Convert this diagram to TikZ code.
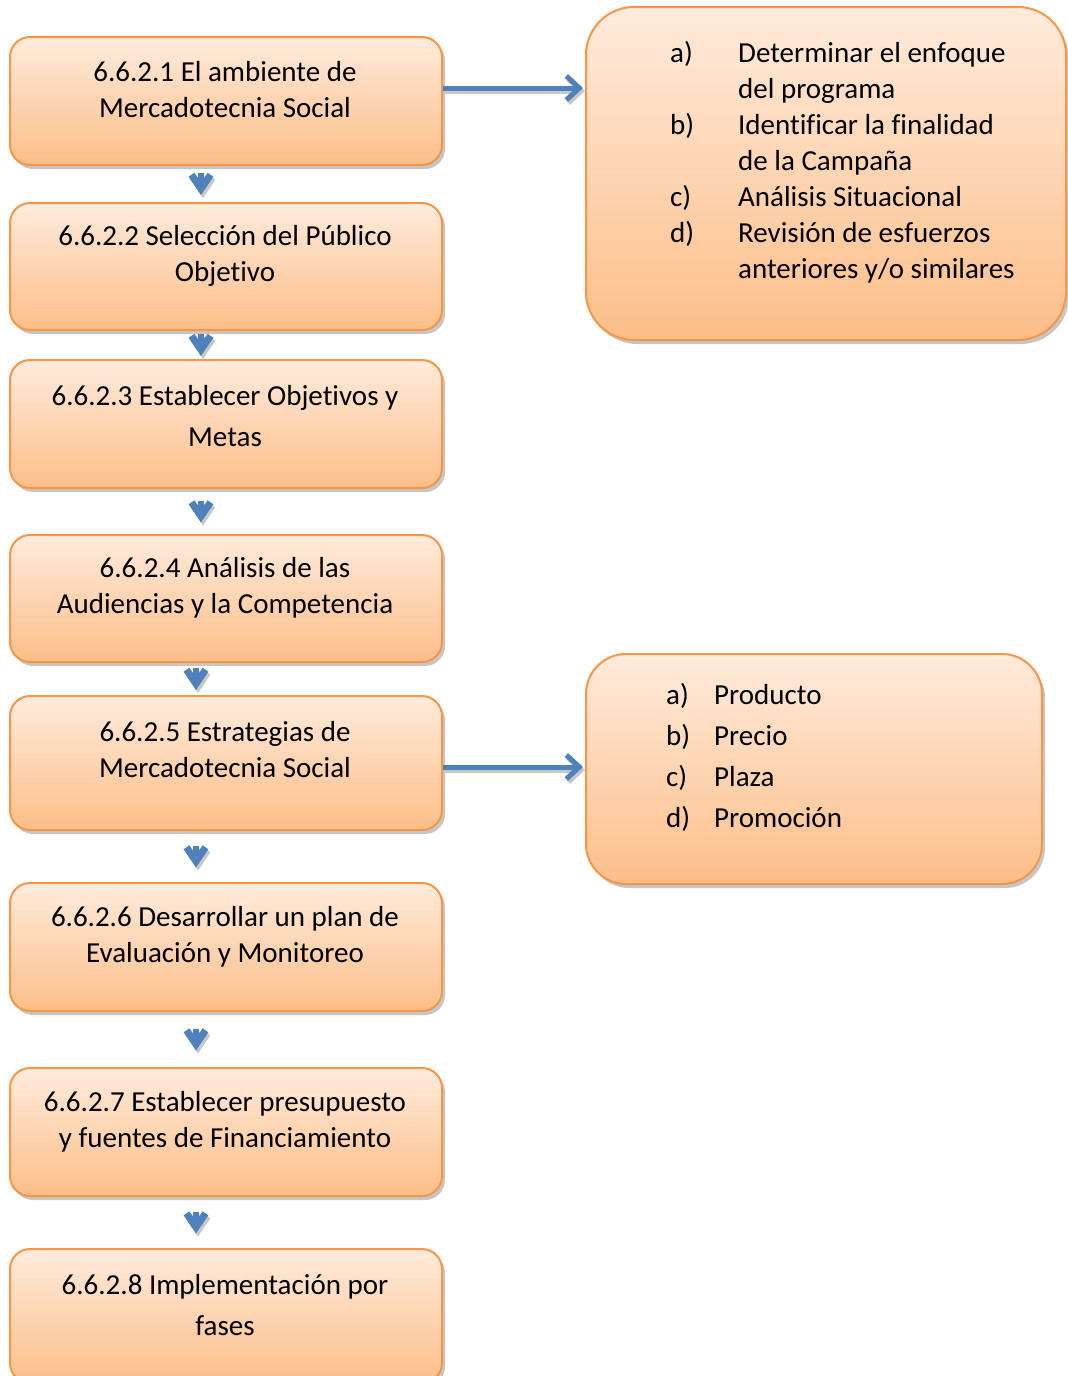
\documentclass[tikz,border=0pt]{standalone}
\usepackage{fontspec}
\setmainfont[Ligatures={NoCommon}]{Carlito}
\usetikzlibrary{shadows,arrows.meta,calc}
\definecolor{boxline}{HTML}{F79646}
\definecolor{boxtop}{HTML}{FFEBDC}
\definecolor{boxbottom}{HTML}{FCBE88}
\definecolor{arrowblue}{HTML}{4F81BD}
\tikzset{
  stepbox/.style={draw=boxline, line width=2pt, top color=boxtop, bottom color=boxbottom,
    rounded corners=20pt, minimum width=432pt, inner sep=0pt,
    drop shadow={shadow xshift=3pt, shadow yshift=-4pt, fill=black!28, opacity=0.8}},
  listbox/.style={stepbox, rounded corners=48pt},
  steptext/.style={align=center, inner sep=0pt, font=\fontsize{29}{36}\selectfont},
  widetext/.style={steptext, font=\fontsize{29}{41}\selectfont},
  varrow/.style={draw=arrowblue, line width=5.5pt,
    -{Straight Barb[length=14pt, width=19pt, line width=7pt]},
    preaction={draw=black!22, line width=5.5pt, transform canvas={shift={(2pt,-3pt)}}}},
  harrow/.style={draw=arrowblue, line width=5pt, shorten >=2pt,
    -{Straight Barb[length=13pt, width=24pt, line width=5pt]},
    preaction={draw=black!22, line width=5pt, transform canvas={shift={(2pt,-3pt)}}}}
}
% short down arrow centred in the gap between two steps
\newcommand\steparrow[3]{%
  \draw[varrow] ($(#1.south)!.5!(#2.north)+(#3,-11)$) -- ($(#1.south)!.5!(#2.north)+(#3,11)$);}
\begin{document}
\begin{tikzpicture}[x=1pt,y=-1pt]
\useasboundingbox[fill=white] (0,0) rectangle (1068,1376);

% steps of the process
\node[stepbox, minimum height=128pt] (b1) at (226,101) {};
\node[stepbox, minimum height=127pt] (b2) at (226,266.5) {};
\node[stepbox, minimum height=128pt] (b3) at (226,424) {};
\node[stepbox, minimum height=127pt] (b4) at (226,598.5) {};
\node[stepbox, minimum height=134pt] (b5) at (226,763) {};
\node[stepbox, minimum height=128pt] (b6) at (226,947) {};
\node[stepbox, minimum height=128pt] (b7) at (226,1132) {};
\node[stepbox, minimum height=134pt] (b8) at (226,1316) {};

\node[steptext] (t1) at (225,90) {6.6.2.1 El ambiente de\\Mercadotecnia Social};
\node[steptext] (t2) at (225,256) {6.6.2.2 Selección del Público\\Objetivo};
\node[widetext] (t3) at (225,416.5) {6.6.2.3 Establecer Objetivos y\\Metas};
\node[steptext] (t4) at (225,588) {6.6.2.4 Análisis de las\\Audiencias y la Competencia};
\node[steptext] (t5) at (225,750) {6.6.2.5 Estrategias de\\Mercadotecnia Social};
\node[steptext] (t6) at (225,937) {6.6.2.6 Desarrollar un plan de\\Evaluación y Monitoreo};
\node[steptext] (t7) at (225,1122) {6.6.2.7 Establecer presupuesto\\y fuentes de Financiamiento};
\node[widetext] (t8) at (225,1305.5) {6.6.2.8 Implementación por\\fases};

% detail boxes
\node[listbox, minimum width=480pt, minimum height=333pt] (rA) at (826,173.5) {};
\node[listbox, rounded corners=40pt, minimum width=456pt, minimum height=230pt] (rB) at (814,769) {};

\node[anchor=west, inner sep=0pt, font=\fontsize{29}{36}\selectfont] (lA) at (670,163) {%
  \begin{tabular}{@{}p{68pt}@{}l@{}}
  a) & Determinar el enfoque\\
     & del programa\\
  b) & Identificar la finalidad\\
     & de la Campaña\\
  c) & Análisis Situacional\\
  d) & Revisión de esfuerzos\\
     & anteriores y/o similares
  \end{tabular}};
\node[anchor=west, inner sep=0pt, font=\fontsize{29}{41}\selectfont] (lB) at (666,758) {%
  \begin{tabular}{@{}p{48pt}@{}l@{}}
  a) & Producto\\
  b) & Precio\\
  c) & Plaza\\
  d) & Promoción
  \end{tabular}};

% connectors
\steparrow{b1}{b2}{-25}
\steparrow{b2}{b3}{-25}
\steparrow{b3}{b4}{-25}
\steparrow{b4}{b5}{-30}
\steparrow{b5}{b6}{-30}
\steparrow{b6}{b7}{-30}
\steparrow{b7}{b8}{-30}

\coordinate (h1) at (0,88);
\coordinate (h2) at (0,767);
\draw[harrow] (b1.east |- h1) -- (rA.west |- h1);
\draw[harrow] (b5.east |- h2) -- (rB.west |- h2);
\end{tikzpicture}
\end{document}
